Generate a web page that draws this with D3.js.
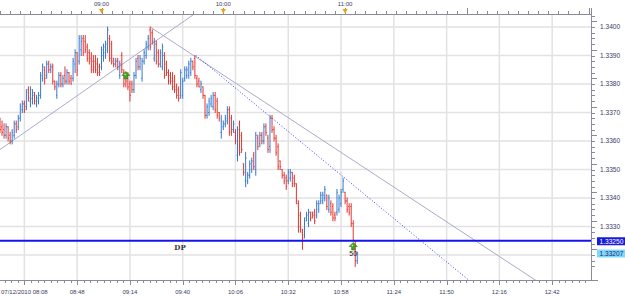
<!DOCTYPE html>
<html>
<head>
<meta charset="utf-8">
<script src="https://cdn.jsdelivr.net/npm/d3@7"></script>
<style>
html, body { margin: 0; padding: 0; background: #fff; }
svg { display: block; font-family: "Liberation Sans", Arial, sans-serif; }
</style>
</head>
<body>
<svg id="chart" width="625" height="297"></svg>
<script>
// EURUSD M1 bars, 07/12/2010, first bar at 08:10 (minutes after 08:00)
var firstMinute = 10;

var opens = [
1.3367,1.3365,1.3364,1.3362,1.3365,1.3362,1.3360,1.3362,1.3366,1.3365,
1.3368,1.3371,1.3373,1.3372,1.3378,1.3374,1.3375,1.3376,1.3373,1.3374,
1.3376,1.3382,1.3385,1.3383,1.3387,1.3385,1.3386,1.3381,1.3376,1.3380,
1.3383,1.3380,1.3383,1.3381,1.3384,1.3382,1.3382,1.3387,1.3391,1.3388,
1.3392,1.3396,1.3395,1.3393,1.3391,1.3389,1.3388,1.3388,1.3387,1.3386,
1.3386,1.3390,1.3391,1.3392,1.3396,1.3394,1.3389,1.3387,1.3388,1.3383,
1.3390,1.3384,1.3383,1.3382,1.3380,1.3380,1.3378,1.3383,1.3389,1.3386,
1.3382,1.3388,1.3390,1.3393,1.3399,1.3398,1.3389,1.3394,1.3391,1.3387,
1.3386,1.3390,1.3387,1.3384,1.3383,1.3382,1.3381,1.3379,1.3378,1.3376,
1.3376,1.3382,1.3383,1.3383,1.3384,1.3388,1.3389,1.3382,1.3381,1.3378,
1.3379,1.3376,1.3369,1.3370,1.3373,1.3372,1.3376,1.3374,1.3370,1.3363,
1.3365,1.3366,1.3367,1.3371,1.3368,1.3364,1.3363,1.3355,1.3366,1.3362,
1.3352,1.3346,1.3346,1.3348,1.3350,1.3355,1.3350,1.3361,1.3359,1.3362,
1.3360,1.3365,1.3361,1.3358,1.3368,1.3364,1.3361,1.3358,1.3353,1.3350,
1.3348,1.3347,1.3346,1.3347,1.3349,1.3347,1.3345,1.3338,1.3334,1.3328,
1.3327,1.3333,1.3331,1.3335,1.3335,1.3335,1.3334,1.3336,1.3339,1.3339,
1.3340,1.3341,1.3336,1.3338,1.3337,1.3334,1.3335,1.3336,1.3338,1.3343,
1.3342,1.3339,1.3337,1.3337,1.3331,1.3325,1.3318];

var highs = [
1.3368,1.3367,1.3366,1.3366,1.3365,1.3363,1.3364,1.3367,1.3367,1.3369,
1.3373,1.3374,1.3374,1.3378,1.3379,1.3379,1.3378,1.3377,1.3376,1.3377,
1.3384,1.3387,1.3386,1.3388,1.3388,1.3387,1.3387,1.3381,1.3381,1.3384,
1.3384,1.3383,1.3386,1.3385,1.3384,1.3383,1.3389,1.3392,1.3391,1.3397,
1.3397,1.3397,1.3397,1.3394,1.3392,1.3391,1.3390,1.3390,1.3389,1.3387,
1.3393,1.3394,1.3395,1.3400,1.3397,1.3395,1.3389,1.3389,1.3389,1.3388,
1.3391,1.3385,1.3384,1.3384,1.3381,1.3381,1.3384,1.3389,1.3390,1.3390,
1.3389,1.3392,1.3395,1.3397,1.3400,1.3399,1.3396,1.3395,1.3392,1.3392,
1.3394,1.3391,1.3388,1.3385,1.3384,1.3384,1.3383,1.3380,1.3379,1.3385,
1.3382,1.3386,1.3386,1.3388,1.3389,1.3388,1.3390,1.3383,1.3382,1.3381,
1.3379,1.3376,1.3373,1.3375,1.3376,1.3377,1.3377,1.3375,1.3370,1.3369,
1.3367,1.3369,1.3372,1.3372,1.3369,1.3367,1.3364,1.3365,1.3367,1.3363,
1.3352,1.3356,1.3349,1.3353,1.3354,1.3356,1.3363,1.3362,1.3363,1.3363,
1.3366,1.3366,1.3362,1.3369,1.3369,1.3365,1.3362,1.3359,1.3353,1.3350,
1.3349,1.3348,1.3350,1.3350,1.3349,1.3348,1.3345,1.3339,1.3335,1.3329,
1.3333,1.3335,1.3336,1.3335,1.3335,1.3336,1.3339,1.3339,1.3342,1.3342,
1.3344,1.3341,1.3341,1.3339,1.3338,1.3335,1.3343,1.3341,1.3343,1.3347,
1.3342,1.3340,1.3338,1.3338,1.3332,1.3325,1.3321];

var lows = [
1.3363,1.3362,1.3361,1.3361,1.3360,1.3359,1.3359,1.3361,1.3363,1.3364,
1.3367,1.3370,1.3370,1.3371,1.3374,1.3372,1.3373,1.3373,1.3372,1.3373,
1.3375,1.3381,1.3380,1.3382,1.3384,1.3384,1.3380,1.3378,1.3375,1.3379,
1.3379,1.3379,1.3380,1.3380,1.3380,1.3380,1.3381,1.3384,1.3383,1.3387,
1.3390,1.3390,1.3391,1.3388,1.3387,1.3384,1.3384,1.3384,1.3383,1.3383,
1.3385,1.3388,1.3389,1.3391,1.3388,1.3387,1.3386,1.3386,1.3385,1.3382,
1.3384,1.3379,1.3379,1.3378,1.3374,1.3377,1.3377,1.3382,1.3385,1.3385,
1.3381,1.3387,1.3389,1.3392,1.3392,1.3394,1.3388,1.3387,1.3386,1.3386,
1.3385,1.3382,1.3383,1.3380,1.3380,1.3378,1.3377,1.3375,1.3374,1.3375,
1.3375,1.3381,1.3382,1.3382,1.3383,1.3385,1.3382,1.3379,1.3379,1.3377,
1.3375,1.3368,1.3368,1.3369,1.3372,1.3371,1.3370,1.3368,1.3367,1.3361,
1.3364,1.3365,1.3366,1.3362,1.3362,1.3363,1.3359,1.3353,1.3355,1.3356,
1.3348,1.3344,1.3345,1.3347,1.3349,1.3350,1.3348,1.3357,1.3358,1.3359,
1.3359,1.3362,1.3356,1.3356,1.3363,1.3360,1.3355,1.3350,1.3350,1.3347,
1.3345,1.3343,1.3345,1.3346,1.3344,1.3344,1.3338,1.3328,1.3328,1.3322,
1.3326,1.3332,1.3330,1.3332,1.3333,1.3331,1.3333,1.3335,1.3338,1.3338,
1.3339,1.3336,1.3335,1.3334,1.3332,1.3332,1.3334,1.3335,1.3337,1.3342,
1.3338,1.3335,1.3334,1.3330,1.3325,1.3316,1.3317];

var closes = [
1.3364,1.3363,1.3362,1.3365,1.3361,1.3360,1.3363,1.3366,1.3364,1.3368,
1.3372,1.3373,1.3371,1.3377,1.3375,1.3378,1.3377,1.3374,1.3375,1.3376,
1.3383,1.3386,1.3382,1.3387,1.3385,1.3386,1.3381,1.3379,1.3380,1.3383,
1.3380,1.3382,1.3381,1.3384,1.3381,1.3380,1.3388,1.3391,1.3385,1.3396,
1.3395,1.3391,1.3392,1.3389,1.3388,1.3385,1.3386,1.3385,1.3384,1.3384,
1.3392,1.3393,1.3394,1.3399,1.3389,1.3388,1.3387,1.3388,1.3386,1.3387,
1.3385,1.3380,1.3381,1.3379,1.3376,1.3378,1.3383,1.3388,1.3386,1.3389,
1.3388,1.3391,1.3394,1.3396,1.3393,1.3395,1.3395,1.3388,1.3387,1.3391,
1.3393,1.3383,1.3384,1.3381,1.3381,1.3379,1.3378,1.3376,1.3375,1.3384,
1.3381,1.3385,1.3385,1.3387,1.3388,1.3386,1.3383,1.3380,1.3379,1.3380,
1.3376,1.3369,1.3372,1.3374,1.3375,1.3376,1.3371,1.3369,1.3368,1.3367,
1.3366,1.3368,1.3371,1.3363,1.3364,1.3366,1.3360,1.3364,1.3356,1.3357,
1.3349,1.3354,1.3348,1.3352,1.3353,1.3351,1.3362,1.3358,1.3362,1.3360,
1.3365,1.3363,1.3357,1.3368,1.3364,1.3361,1.3356,1.3351,1.3351,1.3348,
1.3346,1.3344,1.3349,1.3349,1.3345,1.3345,1.3339,1.3330,1.3329,1.3326,
1.3332,1.3334,1.3335,1.3333,1.3334,1.3332,1.3338,1.3338,1.3341,1.3341,
1.3343,1.3337,1.3340,1.3335,1.3333,1.3333,1.3342,1.3340,1.3342,1.3346,
1.3339,1.3336,1.3335,1.3331,1.3325,1.3318,1.33207];

// axes
var priceTicks = [1.3320, 1.3330, 1.3340, 1.3350, 1.3360, 1.3370, 1.3380, 1.3390, 1.3400];
var priceTickLabels = ["1.3320", "1.3330", "1.3340", "1.3350", "1.3360", "1.3370", "1.3380", "1.3390", "1.3400"];
var bottomTickMinutes = [22, 48, 74, 100, 126, 152, 178, 204, 230, 256, 282];
var bottomTickLabels = ["07/12/2010 08:08", "08:48", "09:14", "09:40", "10:06", "10:32", "10:58", "11:24", "11:50", "12:16", "12:42"];
var hourMinutes = [60, 120, 180];
var hourLabels = ["09:00", "10:00", "11:00"];

// drawn objects: [minute, price]
var trendUp = [[10, 1.3357], [104.6, 1.3404]];
var trendDown = [[84, 1.3400], [272, 1.3312]];
var trendDotted = [[106.5, 1.3390], [239.5, 1.3312]];
var dpLevel = 1.3325;
var dpLabel = "DP";
var lastPrice = 1.33207;
var markers = [[72, 1.3383, ""], [184, 1.3323, "50"]];

var plotL = 0, plotR = 591, plotT = 14, plotB = 280;
var svg = d3.select("#chart");

var x = d3.scaleLinear().domain([0, 300]).range([-20.3, 588.7]);
var y = d3.scaleLinear().domain([1.3320, 1.3400]).range([255, 27]);

svg.append("defs").append("clipPath").attr("id", "plotclip")
    .append("rect").attr("x", plotL).attr("y", plotT)
    .attr("width", plotR - plotL).attr("height", plotB - plotT);

// grid
var grid = svg.append("g");
grid.selectAll("line.hg").data(priceTicks).enter().append("line")
    .attr("x1", plotL).attr("x2", plotR)
    .attr("y1", function(d) { return y(d); }).attr("y2", function(d) { return y(d); })
    .attr("stroke", "#e2e2e2").attr("stroke-width", 1.5);
grid.selectAll("line.vg").data(bottomTickMinutes).enter().append("line")
    .attr("x1", function(d) { return x(d); }).attr("x2", function(d) { return x(d); })
    .attr("y1", plotT).attr("y2", plotB)
    .attr("stroke", "#e2e2e2").attr("stroke-width", 1.5);

var plot = svg.append("g").attr("clip-path", "url(#plotclip)");

// trend lines, extended as rays and clipped to the plot
function ray(pts, back) {
    var x0 = x(pts[0][0]), y0 = y(pts[0][1]), x1 = x(pts[1][0]), y1 = y(pts[1][1]);
    var dx = x1 - x0, dy = y1 - y0, k = 50;
    return [[back ? x0 - dx * k : x0, back ? y0 - dy * k : y0], [x0 + dx * k, y0 + dy * k]];
}
var line = d3.line();
plot.append("path").attr("d", line(ray(trendUp, true)))
    .attr("fill", "none").attr("stroke", "#aaaacc").attr("stroke-width", 1);
plot.append("path").attr("d", line(ray(trendDown, false)))
    .attr("fill", "none").attr("stroke", "#aaaacc").attr("stroke-width", 1);
plot.append("path").attr("d", line(ray(trendDotted, false)))
    .attr("fill", "none").attr("stroke", "#3a3aff").attr("stroke-width", 1)
    .attr("stroke-dasharray", "1,2");

// OHLC bars
var bars = plot.selectAll("g.bar").data(opens).enter().append("g")
    .attr("stroke", function(d, i) { return closes[i] >= opens[i] ? "#3579cf" : "#e5352f"; })
    .attr("stroke-width", 1);
bars.append("line")
    .attr("x1", function(d, i) { return x(firstMinute + i); })
    .attr("x2", function(d, i) { return x(firstMinute + i); })
    .attr("y1", function(d, i) { return y(highs[i]) - 0.5; })
    .attr("y2", function(d, i) { return y(lows[i]) + 0.5; });
bars.append("line")
    .attr("x1", function(d, i) { return x(firstMinute + i) - 0.9; })
    .attr("x2", function(d, i) { return x(firstMinute + i); })
    .attr("y1", function(d, i) { return y(opens[i]); })
    .attr("y2", function(d, i) { return y(opens[i]); });
bars.append("line")
    .attr("x1", function(d, i) { return x(firstMinute + i); })
    .attr("x2", function(d, i) { return x(firstMinute + i) + 0.9; })
    .attr("y1", function(d, i) { return y(closes[i]); })
    .attr("y2", function(d, i) { return y(closes[i]); });

// DP level
plot.append("line").attr("x1", plotL).attr("x2", plotR)
    .attr("y1", y(dpLevel)).attr("y2", y(dpLevel))
    .attr("stroke", "#1414ee").attr("stroke-width", 2);
svg.append("text").attr("x", 180).attr("y", y(dpLevel) + 9)
    .attr("text-anchor", "middle").attr("font-family", "'DejaVu Serif', serif")
    .attr("font-weight", "bold").attr("font-size", 7).attr("fill", "#333")
    .text(dpLabel);

// arrows
var mk = svg.selectAll("g.mk").data(markers).enter().append("g")
    .attr("transform", function(d) { return "translate(" + x(d[0]) + "," + y(d[1]) + ")"; });
mk.append("path").attr("d", "M0,-4L4,0L1.6,0L1.6,3.5L-1.6,3.5L-1.6,0L-4,0Z")
    .attr("fill", "#43a524").attr("stroke", "#2d7a14").attr("stroke-width", 0.6);
mk.append("circle").attr("cx", -0.8).attr("cy", -1).attr("r", 0.8).attr("fill", "#c9f3a8");
mk.append("text").attr("y", 10).attr("text-anchor", "middle").attr("font-size", 7)
    .attr("fill", "#222").text(function(d) { return d[2]; });

// top time axis
var axisCol = "#8a8a9a", textCol = "#3c3c64";
svg.append("line").attr("x1", 0).attr("x2", plotR).attr("y1", plotT + 0.5).attr("y2", plotT + 0.5)
    .attr("stroke", axisCol);
var fiveMin = d3.range(0, 301, 5);
svg.selectAll("line.tt").data(fiveMin).enter().append("line")
    .attr("x1", function(d) { return Math.round(x(d)) + 0.5; })
    .attr("x2", function(d) { return Math.round(x(d)) + 0.5; })
    .attr("y1", function(d) { return d % 60 === 0 ? 8 : 11; }).attr("y2", plotT)
    .attr("stroke", axisCol)
    .attr("display", function(d) { return x(d) < 0 || x(d) > plotR ? "none" : null; });
svg.selectAll("text.th").data(hourMinutes).enter().append("text")
    .attr("x", function(d) { return x(d); }).attr("y", 6)
    .attr("text-anchor", "middle").attr("font-size", 6).attr("fill", textCol)
    .text(function(d, i) { return hourLabels[i]; });
svg.selectAll("path.tri").data(hourMinutes).enter().append("path")
    .attr("d", function(d) { var c = x(d); return "M" + (c - 2.5) + ",9L" + (c + 2.5) + ",9L" + c + ",13.5Z"; })
    .attr("fill", "#f5a000");

// bottom time axis
svg.append("line").attr("x1", 0).attr("x2", 598).attr("y1", plotB + 0.5).attr("y2", plotB + 0.5)
    .attr("stroke", axisCol);
var minorBottom = d3.range(22 - 3.25 * 8, 300, 3.25);
svg.selectAll("line.bt").data(minorBottom).enter().append("line")
    .attr("x1", function(d) { return Math.round(x(d)) + 0.5; })
    .attr("x2", function(d) { return Math.round(x(d)) + 0.5; })
    .attr("y1", plotB).attr("y2", function(d, i) { return i % 8 === 0 ? plotB + 5 : plotB + 3; })
    .attr("stroke", axisCol)
    .attr("display", function(d) { return x(d) < 0 || x(d) > plotR ? "none" : null; });
svg.selectAll("text.bl").data(bottomTickMinutes).enter().append("text")
    .attr("x", function(d) { return x(d); }).attr("y", 294)
    .attr("text-anchor", "middle").attr("font-size", 6).attr("fill", textCol)
    .text(function(d, i) { return bottomTickLabels[i]; });

// right price axis
svg.append("line").attr("x1", plotR + 0.5).attr("x2", plotR + 0.5).attr("y1", 8).attr("y2", plotB)
    .attr("stroke", axisCol);
var minorPrice = d3.range(13316, 13405, 2).map(function(v) { return v / 10000; });
svg.selectAll("line.rt").data(minorPrice).enter().append("line")
    .attr("x1", plotR).attr("x2", function(d, i) { return (i + 2) % 5 === 0 ? plotR + 6 : plotR + 4; })
    .attr("y1", function(d) { return Math.round(y(d)) + 0.5; })
    .attr("y2", function(d) { return Math.round(y(d)) + 0.5; })
    .attr("stroke", axisCol)
    .attr("display", function(d) { return y(d) < plotT || y(d) > plotB ? "none" : null; });
svg.selectAll("text.rl").data(priceTicks).enter().append("text")
    .attr("x", 600).attr("y", function(d) { return y(d) + 2.2; })
    .attr("font-size", 6.6).attr("fill", textCol)
    .text(function(d, i) { return priceTickLabels[i]; });

// price boxes
function priceBox(p, label, bg, fg) {
    var g = svg.append("g");
    g.append("rect").attr("x", 597).attr("y", y(p) - 3.5).attr("width", 28).attr("height", 8)
        .attr("fill", bg);
    g.append("text").attr("x", 599.5).attr("y", y(p) + 2.8).attr("font-size", 6.6)
        .attr("fill", fg).text(label);
}
priceBox(dpLevel, "1.33250", "#1a1adc", "#ffffff");
priceBox(lastPrice, "1.33207", "#80d8ff", "#1a2a60");
</script>
</body>
</html>
